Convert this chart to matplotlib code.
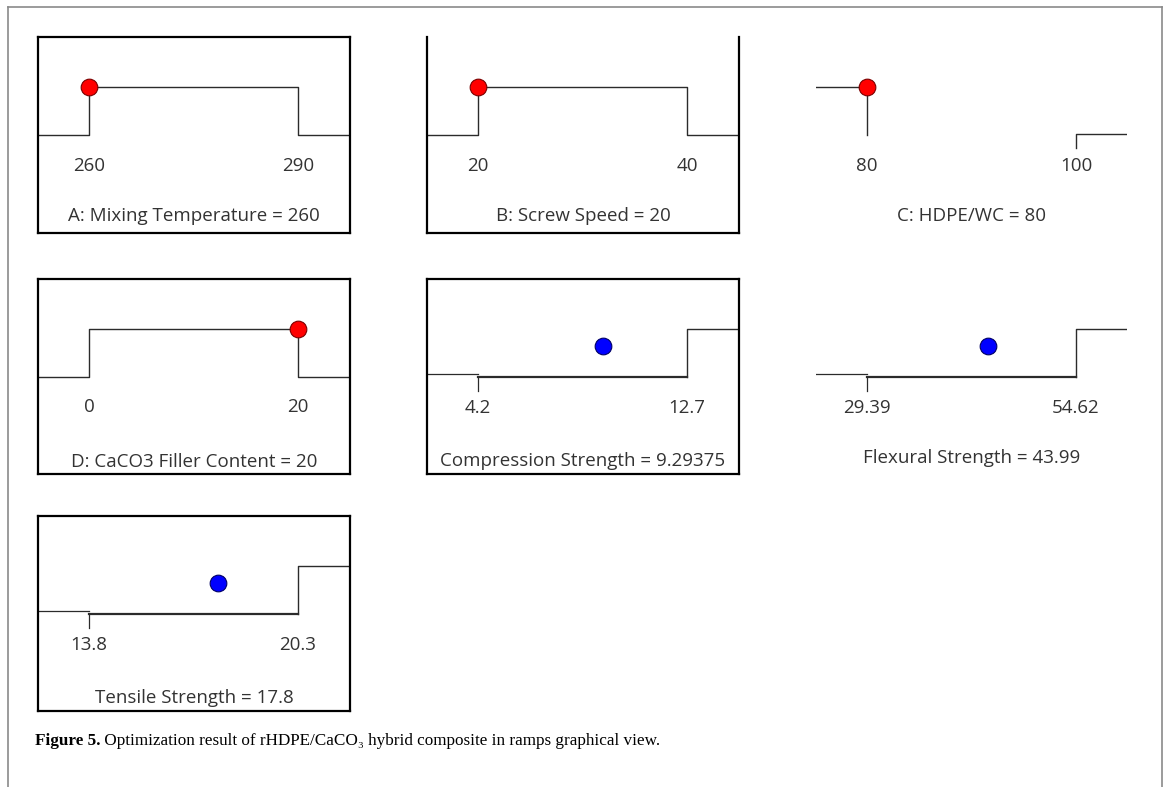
import matplotlib
matplotlib.use('Agg')
import matplotlib.pyplot as plt

W, H, DPI = 1172, 787, 100

# factor settings (ramps with red dots)
fac_names = ['A: Mixing Temperature', 'B: Screw Speed', 'C: HDPE/WC', 'D: CaCO3 Filler Content']
fac_low = [260, 20, 80, 0]
fac_high = [290, 40, 100, 20]
fac_value = [260, 20, 80, 20]

# responses (ramps with blue dots)
resp_names = ['Compression Strength', 'Flexural Strength', 'Tensile Strength']
resp_low = [4.2, 29.39, 13.8]
resp_high = [12.7, 54.62, 20.3]
resp_value = [9.29375, 43.99, 17.8]

caption_bold = 'Figure 5.'
caption_rest = ' Optimization result of rHDPE/CaCO\u2083 hybrid composite in ramps graphical view.'

# panel boxes in pixels: left, top, right, bottom
cols = [(38, 350), (427, 739), (816, 1127)]
rows = [(37, 233), (279, 474), (516, 711)]
fac_pos = [(0, 0), (0, 1), (0, 2), (1, 0)]
resp_pos = [(1, 1), (1, 2), (2, 0)]

LINE = '#2b2b2b'
TXT = '#333333'
SANS = ['Open Sans', 'DejaVu Sans']
SERIF = ['Liberation Serif', 'DejaVu Serif']
FS = 13.5

fig = plt.figure(figsize=(W / DPI, H / DPI), dpi=DPI)

# outer page frame
frame = fig.add_axes([8 / W, -0.1, (1162 - 8) / W, 1 - 7 / H + 0.1])
frame.set_xticks([]); frame.set_yticks([])
frame.patch.set_alpha(0)
frame.spines['bottom'].set_visible(False)
for s in ['left', 'top', 'right']:
    frame.spines[s].set_color('#8a8a8a')
    frame.spines[s].set_linewidth(1.2)


def make_ax(r, c, lo, hi):
    x0, x1 = cols[c]
    y0, y1 = rows[r]
    ax = fig.add_axes([x0 / W, 1 - y1 / H, (x1 - x0) / W, (y1 - y0) / H])
    span = hi - lo
    xmin = lo - 51 / 209 * span
    ax.set_xlim(xmin, xmin + (x1 - x0) / 209 * span)
    ax.set_ylim(-2.04, 2.04)
    ax.set_xticks([]); ax.set_yticks([])
    for s in ax.spines.values():
        s.set_linewidth(1.6)
        s.set_color('black')
    return ax


def fmt(v):
    return ('%g' % v)


for i, name in enumerate(fac_names):
    r, c = fac_pos[i]
    lo, hi, v = fac_low[i], fac_high[i], fac_value[i]
    ax = make_ax(r, c, lo, hi)
    xa, xb = ax.get_xlim()
    if i == 2:
        for s in ax.spines.values():
            s.set_visible(False)
        ax.plot([xa, lo, lo], [1, 1, 0], color=LINE, lw=1.0)
        ax.plot([hi, hi, xb], [-0.27, 0.03, 0.03], color=LINE, lw=1.0)
    else:
        if i == 1:
            ax.spines['top'].set_visible(False)
        ax.plot([xa, lo, lo, hi, hi, xb], [0, 0, 1, 1, 0, 0], color=LINE, lw=1.0)
    ax.plot([v], [1], 'o', ms=12, mfc='#ff0000', mec='#7a0000', mew=0.8, zorder=5, clip_on=False)
    ax.text(lo, -0.64, fmt(lo), ha='center', va='center', fontsize=FS, color=TXT, family=SANS)
    ax.text(hi, -0.64, fmt(hi), ha='center', va='center', fontsize=FS, color=TXT, family=SANS)
    ax.text(0.5, 0.085 if r == 0 else 0.06, '%s = %s' % (name, fmt(v)), transform=ax.transAxes,
            ha='center', va='center', fontsize=FS, color=TXT, family=SANS)

for i, name in enumerate(resp_names):
    r, c = resp_pos[i]
    lo, hi, v = resp_low[i], resp_high[i], resp_value[i]
    ax = make_ax(r, c, lo, hi)
    xa, xb = ax.get_xlim()
    if i == 1:
        for s in ax.spines.values():
            s.set_visible(False)
    ax.plot([xa, lo], [0.05, 0.05], color=LINE, lw=0.9)
    ax.plot([lo, lo], [-0.3, 0], color=LINE, lw=0.9)
    ax.plot([lo, hi], [0, 0], color=LINE, lw=1.6)
    ax.plot([hi, hi, xb], [0, 1, 1], color=LINE, lw=1.0)
    ax.plot([v], [0.63], 'o', ms=12, mfc='#0000ff', mec='#000066', mew=0.8, zorder=5)
    ax.text(lo, -0.66, fmt(lo), ha='center', va='center', fontsize=FS, color=TXT, family=SANS)
    ax.text(hi, -0.66, fmt(hi), ha='center', va='center', fontsize=FS, color=TXT, family=SANS)
    ax.text(0.5, 0.08 if i == 1 else 0.065, '%s = %s' % (name, fmt(v)), transform=ax.transAxes,
            ha='center', va='center', fontsize=FS, color=TXT, family=SANS)

# caption
t1 = fig.text(35 / W, 1 - 741 / H, caption_bold, fontsize=12.3, fontweight='bold',
              family=SERIF, va='center', ha='left')
fig.canvas.draw()
bb = t1.get_window_extent(fig.canvas.get_renderer())
fig.text(bb.x1 / W, 1 - 741 / H, caption_rest, fontsize=12.3, family=SERIF, va='center', ha='left')

fig.savefig('out.png', dpi=DPI)
